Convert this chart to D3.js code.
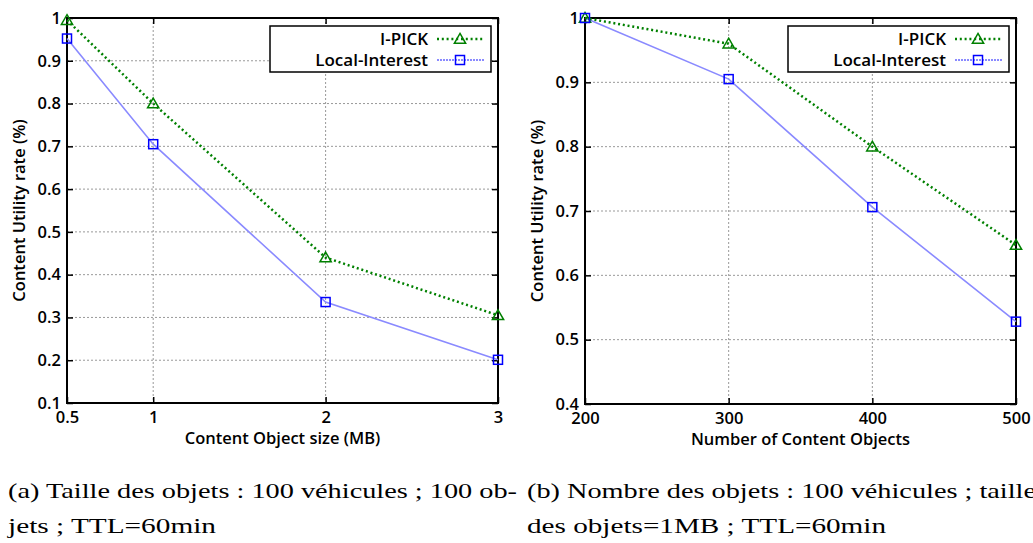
<!DOCTYPE html>
<html>
<head>
<meta charset="utf-8">
<script src="https://cdn.jsdelivr.net/npm/d3@7"></script>
<style>
  body { margin: 0; background: #fff; }
  svg { display: block; }
</style>
</head>
<body>
<svg id="chart" width="1033" height="543"></svg>
<script>
// panel (a): content object size
const sizeX = [0.5, 1, 2, 3];
const sizeIPick = [0.995, 0.80, 0.44, 0.305];
const sizeLocal = [0.952, 0.705, 0.336, 0.201];
const sizeYTicks = [0.1, 0.2, 0.3, 0.4, 0.5, 0.6, 0.7, 0.8, 0.9, 1];

// panel (b): number of content objects
const countX = [200, 300, 400, 500];
const countIPick = [1.0, 0.96, 0.80, 0.647];
const countLocal = [1.0, 0.905, 0.706, 0.528];
const countYTicks = [0.4, 0.5, 0.6, 0.7, 0.8, 0.9, 1];

const seriesNames = ["I-PICK", "Local-Interest"];
const yTitle = "Content Utility rate (%)";
const xTitles = ["Content Object size (MB)", "Number of Content Objects"];
const captions = [
    ["(a) Taille des objets : 100 véhicules ; 100 ob-", "jets ; TTL=60min"],
    ["(b) Nombre des objets : 100 véhicules ; taille", "des objets=1MB ; TTL=60min"]
];

const svg = d3.select("#chart");
const font = "'Open Sans', sans-serif";
const weight = 600;

const green = "#008000";
const blueMark = "#0000ff";
const blueLine = "#8a8aff";

function drawPanel(p) {
    const x = d3.scaleLinear().domain(p.xDomain).range([p.left, p.right]);
    const y = d3.scaleLinear().domain(p.yDomain).range([p.bottom, p.top]);
    const g = svg.append("g");

    // grid
    g.append("g").selectAll("line")
        .data(p.yTicks.slice(1, -1))
        .join("line")
        .attr("x1", p.left).attr("x2", p.right)
        .attr("y1", d => y(d)).attr("y2", d => y(d))
        .attr("stroke", "#999").attr("stroke-width", 1)
        .attr("stroke-dasharray", "2,2");
    g.append("g").selectAll("line")
        .data(p.xTicks.slice(1, -1))
        .join("line")
        .attr("y1", p.top).attr("y2", p.bottom)
        .attr("x1", d => x(d)).attr("x2", d => x(d))
        .attr("stroke", "#999").attr("stroke-width", 1)
        .attr("stroke-dasharray", "2,2");

    // axes with inward ticks
    const fmt = d => String(d);
    g.append("g").attr("transform", `translate(${p.left},0)`)
        .call(d3.axisLeft(y).tickValues(p.yTicks).tickSize(-6).tickPadding(6).tickFormat(fmt))
        .call(a => a.select(".domain").remove());
    g.append("g").attr("transform", `translate(${p.right},0)`)
        .call(d3.axisRight(y).tickValues(p.yTicks).tickSize(-6).tickFormat(""))
        .call(a => a.select(".domain").remove());
    g.append("g").attr("transform", `translate(0,${p.bottom})`)
        .call(d3.axisBottom(x).tickValues(p.xTicks).tickSize(-6).tickPadding(8).tickFormat(fmt))
        .call(a => a.select(".domain").remove());
    g.append("g").attr("transform", `translate(0,${p.top})`)
        .call(d3.axisTop(x).tickValues(p.xTicks).tickSize(-6).tickFormat(""))
        .call(a => a.select(".domain").remove());
    g.selectAll(".tick line").attr("stroke", "#000").attr("stroke-width", 1.5);
    g.selectAll(".tick text")
        .style("font-family", font).style("font-size", "16.5px")
        .style("font-weight", weight).style("fill", "#000");

    // frame
    g.append("rect")
        .attr("x", p.left).attr("y", p.top)
        .attr("width", p.right - p.left).attr("height", p.bottom - p.top)
        .attr("fill", "none").attr("stroke", "#000").attr("stroke-width", 2);

    // titles
    g.append("text")
        .attr("x", (p.left + p.right) / 2).attr("y", p.bottom + 41)
        .attr("text-anchor", "middle")
        .style("font-family", font).style("font-size", "16.5px").style("font-weight", weight)
        .text(p.xTitle);
    g.append("text")
        .attr("transform", `translate(${p.left - 42},${(p.top + p.bottom) / 2}) rotate(-90)`)
        .attr("text-anchor", "middle")
        .style("font-family", font).style("font-size", "16.5px").style("font-weight", weight)
        .text(yTitle);

    // lines
    const line = d3.line().x(d => x(d[0])).y(d => y(d[1]));
    const local = p.xTicks.map((v, i) => [v, p.local[i]]);
    const ipick = p.xTicks.map((v, i) => [v, p.ipick[i]]);

    g.append("path").datum(local)
        .attr("d", line).attr("fill", "none")
        .attr("stroke", blueLine).attr("stroke-width", 1.6);
    g.append("path").datum(ipick)
        .attr("d", line).attr("fill", "none")
        .attr("stroke", green).attr("stroke-width", 2.5)
        .attr("stroke-dasharray", "2,2.8");

    const tri = d3.symbol().type(d3.symbolTriangle).size(55);
    g.append("g").selectAll("path")
        .data(ipick)
        .join("path")
        .attr("transform", d => `translate(${x(d[0])},${y(d[1]) + 1})`)
        .attr("d", tri)
        .attr("fill", "none").attr("stroke", green).attr("stroke-width", 1.5);
    g.append("g").selectAll("rect")
        .data(local)
        .join("rect")
        .attr("x", d => x(d[0]) - 4.5).attr("y", d => y(d[1]) - 4.5)
        .attr("width", 9).attr("height", 9)
        .attr("fill", "none").attr("stroke", blueMark).attr("stroke-width", 1.5);

    // legend
    const lx = p.right - 228, ly = p.top + 8;
    const lg = g.append("g").attr("transform", `translate(${lx},${ly})`);
    lg.append("rect")
        .attr("width", 221).attr("height", 46)
        .attr("fill", "#fff").attr("stroke", "#000").attr("stroke-width", 1.5);
    seriesNames.forEach((name, i) => {
        const cy = 13 + i * 21;
        lg.append("text")
            .attr("x", 158).attr("y", cy + 6)
            .attr("text-anchor", "end")
            .style("font-family", font).style("font-size", "17px").style("font-weight", weight)
            .text(name);
        lg.append("line")
            .attr("x1", 167).attr("x2", 214).attr("y1", cy).attr("y2", cy)
            .attr("stroke", i === 0 ? green : blueLine)
            .attr("stroke-width", i === 0 ? 2.5 : 2)
            .attr("stroke-dasharray", i === 0 ? "2,2.8" : "2,1");
        if (i === 0) {
            lg.append("path")
                .attr("transform", `translate(190,${cy + 1})`)
                .attr("d", tri)
                .attr("fill", "none").attr("stroke", green).attr("stroke-width", 1.5);
        } else {
            lg.append("rect")
                .attr("x", 185.5).attr("y", cy - 4.5).attr("width", 9).attr("height", 9)
                .attr("fill", "none").attr("stroke", blueMark).attr("stroke-width", 1.5);
        }
    });
}

drawPanel({
    left: 67, right: 498, top: 18, bottom: 403,
    xDomain: [0.5, 3], yDomain: [0.1, 1],
    xTicks: sizeX, yTicks: sizeYTicks,
    ipick: sizeIPick, local: sizeLocal,
    xTitle: xTitles[0]
});

drawPanel({
    left: 585, right: 1016, top: 18, bottom: 404,
    xDomain: [200, 500], yDomain: [0.4, 1],
    xTicks: countX, yTicks: countYTicks,
    ipick: countIPick, local: countLocal,
    xTitle: xTitles[1]
});

// captions (justified widths)
const capX = [8, 527];
const capW = [[509, 208], [509, 359]];
captions.forEach((lines, i) => {
    lines.forEach((t, j) => {
        svg.append("text")
            .attr("x", capX[i]).attr("y", 498 + j * 35)
            .attr("font-family", "'Liberation Serif', serif")
            .attr("font-size", 21)
            .attr("textLength", capW[i][j])
            .attr("lengthAdjust", "spacingAndGlyphs")
            .text(t);
    });
});
</script>
</body>
</html>
